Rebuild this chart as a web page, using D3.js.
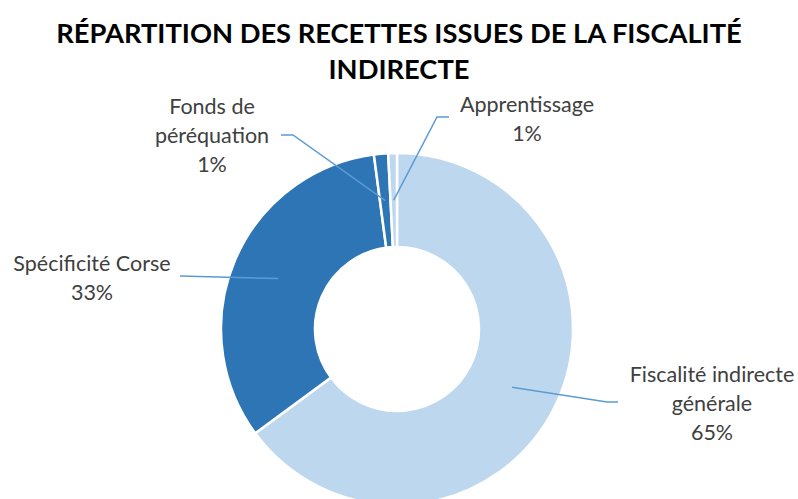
<!DOCTYPE html>
<html>
<head>
<meta charset="utf-8">
<script src="https://cdn.jsdelivr.net/npm/d3@7"></script>
<style>
  html, body { margin: 0; padding: 0; background: #fff; }
  svg { display: block; }
</style>
</head>
<body>
<script>
"use strict";
(function(){
    // chart data
    const categories = ["Fiscalité indirecte générale", "Spécificité Corse", "Fonds de péréquation", "Apprentissage"]
    const values = [64.9, 33.0, 1.3, 0.8]
    // label text split into lines (as in the original)
    const labelLines = [["Fiscalité indirecte", "générale"], ["Spécificité Corse"], ["Fonds de", "péréquation"], ["Apprentissage"]]
    const titleLines = ["RÉPARTITION DES RECETTES ISSUES DE LA FISCALITÉ", "INDIRECTE"]

    const measurements = {
        width: 798,
        height: 499,
        cx: 397,
        cy: 329,
        outer: 176,
        inner: 82
    }

    const color = d3.scaleOrdinal()
        .domain(categories)
        .range(["#BDD7EE", "#2E75B6", "#2E75B6", "#BDD7EE"])

    // where each label sits and where its leader line starts
    const labelLayout = [
        { x: 712, y: 382, line: [[618, 402], [607, 402]] },
        { x: 92, y: 271, line: [[180, 276]] },
        { x: 212, y: 114, line: [[281, 135], [293, 135]] },
        { x: 527, y: 112, line: [[449, 117], [437, 117]] }
    ]

    const svg = d3.select("body").append("svg")
        .attr("width", measurements.width)
        .attr("height", measurements.height)

    // title
    svg.append("g").selectAll("text")
        .data(titleLines)
        .enter()
        .append("text")
        .attr("x", 399)
        .attr("y", (d, i) => 43 + i * 36)
        .attr("text-anchor", "middle")
        .style("font-family", "Lato, 'Open Sans', sans-serif")
        .style("font-weight", "bold")
        .style("font-size", "27.3px")
        .style("fill", "#000")
        .text(d => d)

    const pie = d3.pie().sort(null).value(d => d)
    const arcs = pie(values)
    const arc = d3.arc().innerRadius(measurements.inner).outerRadius(measurements.outer)

    const g = svg.append("g")
        .attr("transform", `translate(${measurements.cx}, ${measurements.cy})`)

    g.selectAll("path")
        .data(arcs)
        .enter()
        .append("path")
        .attr("d", arc)
        .style("fill", (d, i) => color(categories[i]))
        .style("stroke", "#fff")
        .style("stroke-width", 2.5)

    // leader lines
    const line = d3.line()
    svg.append("g").selectAll("path")
        .data(arcs)
        .enter()
        .append("path")
        .attr("d", (d, i) => {
            const c = arc.centroid(d)
            const pts = labelLayout[i].line.concat([[c[0] + measurements.cx, c[1] + measurements.cy]])
            return line(pts)
        })
        .style("fill", "none")
        .style("stroke", "#5B9BD5")
        .style("stroke-width", 1.5)

    // labels
    const total = d3.sum(values)
    const labels = svg.append("g").selectAll("text")
        .data(arcs)
        .enter()
        .append("text")
        .attr("x", (d, i) => labelLayout[i].x)
        .attr("y", (d, i) => labelLayout[i].y)
        .attr("text-anchor", "middle")
        .style("font-family", "Lato, 'Open Sans', sans-serif")
        .style("font-size", "21.5px")
        .style("fill", "#404040")

    labels.each(function(d, i) {
        const t = d3.select(this)
        const lines = labelLines[i].concat([Math.round(d.value / total * 100) + "%"])
        lines.forEach((s, j) => {
            t.append("tspan")
                .attr("x", labelLayout[i].x)
                .attr("dy", j === 0 ? 0 : 29)
                .text(s)
        })
    })
})()
</script>
</body>
</html>
